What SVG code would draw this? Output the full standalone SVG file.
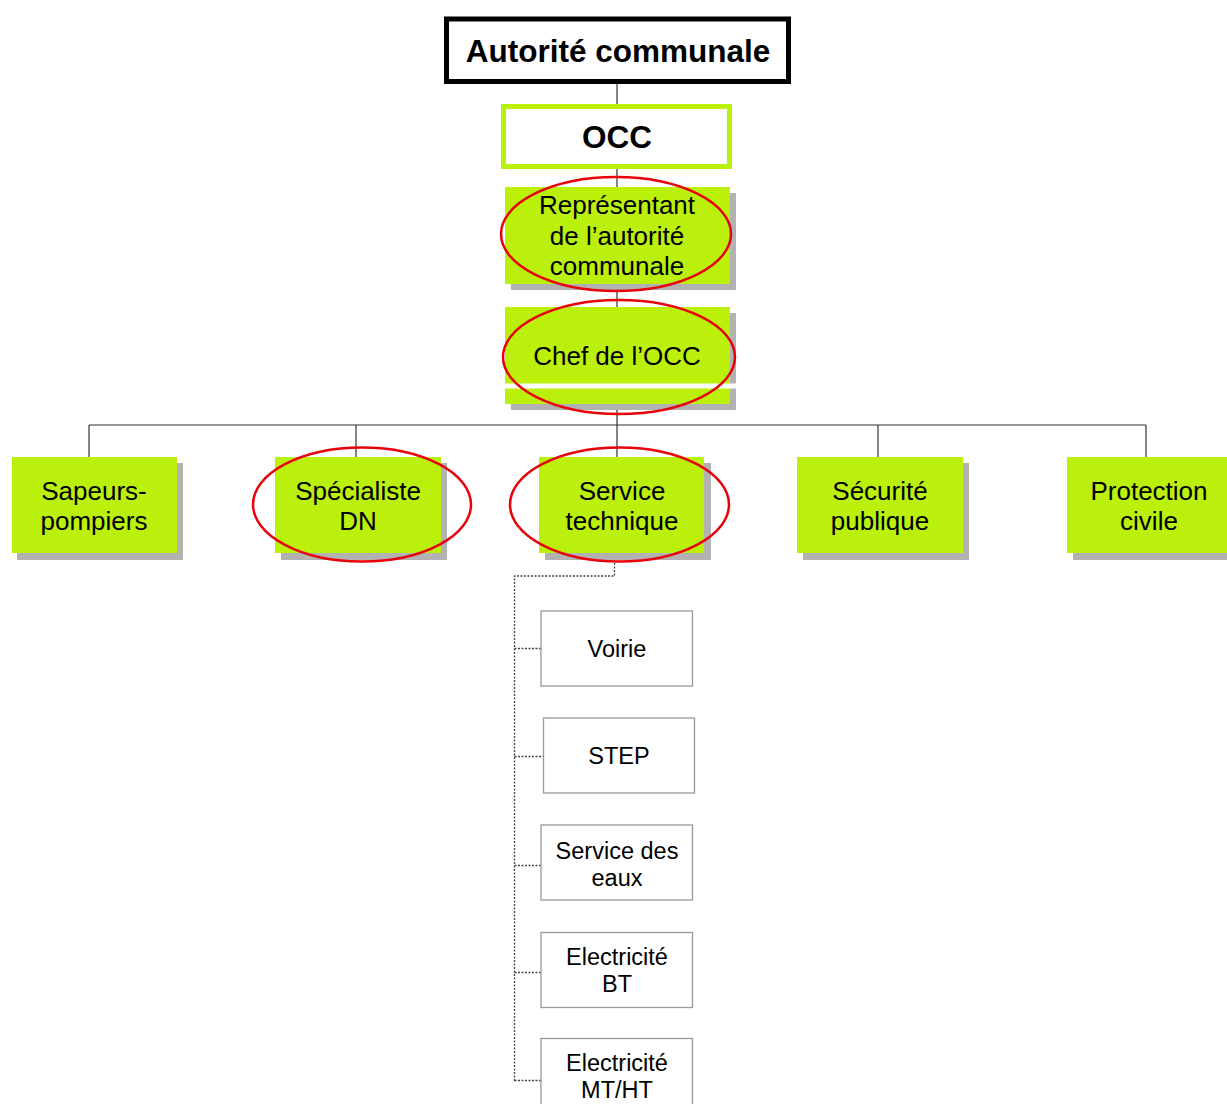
<svg xmlns="http://www.w3.org/2000/svg" width="1227" height="1104" viewBox="0 0 1227 1104">
<style>
text{font-family:"Liberation Sans",Arial,sans-serif;fill:#000;text-anchor:middle}
.big{font-size:31.5px;font-weight:bold}
.mid{font-size:26px}
.sub{font-size:23.5px}
.g{fill:#baf00c}
.sh{fill:#b2b2b2}
.sb{fill:#fff;stroke:#999;stroke-width:1.3}
.ring{fill:none;stroke:#e8000a;stroke-width:2.5}
.ln{stroke:#333;stroke-width:1.2;fill:none}
.dl{stroke:#444;stroke-width:1.3;fill:none;stroke-dasharray:2 1.5}
</style>
<rect width="1227" height="1104" fill="#fff"/>
<g id="connectors">
<path class="ln" d="M617 84V106M617 169V187M617 284V307M617 404V425M89 425H1146M89 425V457M356 425V457M617 425V457M878 425V457M1146 425V457"/>
<path class="dl" d="M614.5 556V576H514.5V1081M514.5 648.5H541M514.5 756.5H543.5M514.5 865.5H541M514.5 972.5H541M514.5 1080.5H541"/>
</g>
<g id="autorite">
<rect x="446.5" y="19" width="342" height="62.5" fill="#fff" stroke="#000" stroke-width="5"/>
<text class="big" x="618" y="62">Autorité communale</text>
</g>
<g id="occ">
<rect x="503.5" y="106.5" width="226" height="60" fill="#fff" stroke="#baf00c" stroke-width="5"/>
<text class="big" x="617" y="148">OCC</text>
</g>
<g id="representant">
<rect class="sh" x="511" y="193" width="225" height="97"/>
<rect class="g" x="505" y="187" width="225" height="97"/>
<text class="mid" x="617" y="214">Représentant</text>
<text class="mid" x="617" y="245">de l’autorité</text>
<text class="mid" x="617" y="275">communale</text>
<ellipse class="ring" cx="616" cy="234" rx="115" ry="57"/>
</g>
<g id="chef">
<rect class="sh" x="511" y="313" width="225" height="97"/>
<rect class="g" x="505" y="307" width="225" height="97"/>
<rect fill="#fff" x="505" y="383.5" width="232" height="5"/>
<text class="mid" x="617" y="365">Chef de l’OCC</text>
<ellipse class="ring" cx="619" cy="357" rx="116" ry="57"/>
</g>
<g id="sapeurs">
<rect class="sh" x="17" y="463" width="166" height="97"/>
<rect class="g" x="12" y="457" width="165" height="96"/>
<text class="mid" x="94" y="500">Sapeurs-</text>
<text class="mid" x="94" y="530">pompiers</text>
</g>
<g id="specialiste">
<rect class="sh" x="281" y="463" width="166" height="97"/>
<rect class="g" x="275" y="457" width="166" height="96"/>
<text class="mid" x="358" y="500">Spécialiste</text>
<text class="mid" x="358" y="530">DN</text>
<ellipse class="ring" cx="362" cy="504.5" rx="109" ry="57"/>
</g>
<g id="service-technique">
<rect class="sh" x="545" y="463" width="166" height="97"/>
<rect class="g" x="539" y="457" width="165" height="96"/>
<text class="mid" x="622" y="500">Service</text>
<text class="mid" x="622" y="530">technique</text>
<ellipse class="ring" cx="619.5" cy="504.5" rx="109.5" ry="57"/>
</g>
<g id="securite">
<rect class="sh" x="803" y="463" width="166" height="97"/>
<rect class="g" x="797" y="457" width="166" height="96"/>
<text class="mid" x="880" y="500">Sécurité</text>
<text class="mid" x="880" y="530">publique</text>
</g>
<g id="protection">
<rect class="sh" x="1073" y="463" width="166" height="97"/>
<rect class="g" x="1067" y="457" width="165" height="96"/>
<text class="mid" x="1149" y="500">Protection</text>
<text class="mid" x="1149" y="530">civile</text>
</g>
<g id="voirie">
<rect class="sb" x="541" y="611" width="151.5" height="75"/>
<text class="sub" x="617" y="657">Voirie</text>
</g>
<g id="step">
<rect class="sb" x="543.5" y="718" width="151" height="75"/>
<text class="sub" x="619" y="764">STEP</text>
</g>
<g id="service-eaux">
<rect class="sb" x="541" y="825" width="151.5" height="75"/>
<text class="sub" x="617" y="859">Service des</text>
<text class="sub" x="617" y="886">eaux</text>
</g>
<g id="electricite-bt">
<rect class="sb" x="541" y="932.5" width="151.5" height="75"/>
<text class="sub" x="617" y="965">Electricité</text>
<text class="sub" x="617" y="992">BT</text>
</g>
<g id="electricite-mt">
<rect class="sb" x="541" y="1038.5" width="151.5" height="75"/>
<text class="sub" x="617" y="1071">Electricité</text>
<text class="sub" x="617" y="1098">MT/HT</text>
</g>
</svg>
